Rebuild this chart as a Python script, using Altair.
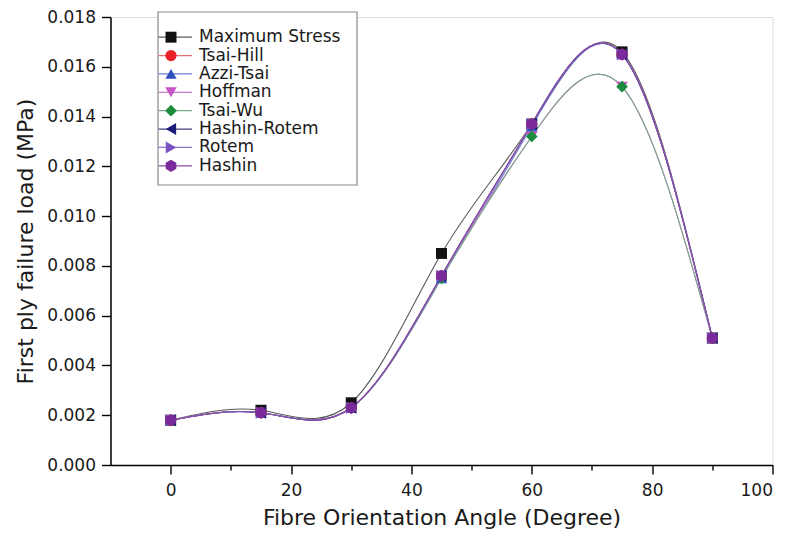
import altair as alt
import pandas as pd

angles = [0, 15, 30, 45, 60, 75, 90]
series_names = ["Maximum Stress", "Tsai-Hill", "Azzi-Tsai", "Hoffman", "Tsai-Wu",
                "Hashin-Rotem", "Rotem", "Hashin"]
max_stress = [0.0018, 0.0022, 0.0025, 0.0085, 0.0137, 0.0166, 0.0051]
tsai_hill = [0.0018, 0.0021, 0.0023, 0.0076, 0.0137, 0.0165, 0.0051]
azzi_tsai = [0.0018, 0.0021, 0.0023, 0.0075, 0.0136, 0.0165, 0.0051]
hoffman = [0.0018, 0.0021, 0.0023, 0.0076, 0.0132, 0.0152, 0.0051]
tsai_wu = [0.0018, 0.0021, 0.0023, 0.0075, 0.0132, 0.0152, 0.0051]
hashin_rotem = [0.0018, 0.0021, 0.0023, 0.0076, 0.0137, 0.0165, 0.0051]
rotem = [0.0018, 0.0021, 0.0023, 0.0076, 0.0137, 0.0165, 0.0051]
hashin = [0.0018, 0.0021, 0.0023, 0.0076, 0.0137, 0.0165, 0.0051]

all_values = [max_stress, tsai_hill, azzi_tsai, hoffman, tsai_wu, hashin_rotem, rotem, hashin]

colors = ["#111111", "#e8202a", "#2f4fbf", "#c455c4", "#1d8a3e", "#1c1c78", "#7b52c4", "#7a2a9a"]
line_colors = ["#5a5a5a", "#e07070", "#6a7fd0", "#c77ac7", "#7aa88a", "#404080", "#8f74cc", "#8a4aa8"]
hexagon = "M0,-1L0.866,-0.5L0.866,0.5L0,1L-0.866,0.5L-0.866,-0.5Z"
shapes = ["square", "circle", "triangle-up", "triangle-down", "diamond",
          "triangle-left", "triangle-right", hexagon]
sizes = [120, 150, 150, 150, 160, 150, 150, 210]

rows = []
for name, vals in zip(series_names, all_values):
    for a, v in zip(angles, vals):
        rows.append({"series": name, "angle": a, "load": v})
df = pd.DataFrame(rows)
df["order"] = df["series"].map({n: i for i, n in enumerate(series_names)})

FONT = "DejaVu Sans"
TXT = "#1a1a1a"

xscale = alt.Scale(domain=[-10, 100], nice=False, zero=False)
yscale = alt.Scale(domain=[0, 0.018], nice=False)

x_axis = alt.Axis(values=list(range(0, 101, 10)), grid=False,
                  labelExpr="datum.value % 20 == 0 ? datum.label : ''",
                  tickSize={"condition": {"test": "datum.value % 20 == 0", "value": 9}, "value": 5},
                  tickWidth=1.4, domainWidth=1.5,
                  title="Fibre Orientation Angle (Degree)", titleFontSize=22, titleFontWeight="normal",
                  titlePadding=9, labelFontSize=17, labelPadding=8, domainColor="black",
                  tickColor="black", labelColor=TXT, titleColor=TXT,
                  labelFont=FONT, titleFont=FONT)
y_vals = [round(i * 0.001, 3) for i in range(0, 19)]
y_axis = alt.Axis(values=y_vals, grid=False, format=".3f",
                  labelExpr="round(datum.value*1000) % 2 == 0 ? datum.label : ''",
                  tickSize={"condition": {"test": "round(datum.value*1000) % 2 == 0", "value": 9}, "value": 5},
                  tickWidth=1.4, domainWidth=1.5,
                  title="First ply failure load (MPa)", titleFontSize=22, titleFontWeight="normal",
                  titlePadding=9, labelFontSize=17, labelPadding=6, domainColor="black",
                  tickColor="black", labelColor=TXT, titleColor=TXT,
                  labelFont=FONT, titleFont=FONT)

size_enc = alt.Size("series:N", scale=alt.Scale(domain=series_names, range=sizes), legend=None)
shape_enc = alt.Shape("series:N", scale=alt.Scale(domain=series_names, range=shapes), legend=None)

base = alt.Chart(df)
lines = base.mark_line(interpolate="natural", strokeWidth=1.1).encode(
    x=alt.X("angle:Q", scale=xscale, axis=x_axis),
    y=alt.Y("load:Q", scale=yscale, axis=y_axis),
    detail="series:N",
    stroke=alt.Stroke("series:N", scale=alt.Scale(domain=series_names, range=line_colors), legend=None),
    order="order:Q",
)
points = base.mark_point(filled=True, opacity=1).encode(
    x=alt.X("angle:Q", scale=xscale),
    y=alt.Y("load:Q", scale=yscale),
    color=alt.Color("series:N", scale=alt.Scale(domain=series_names, range=colors), legend=None),
    shape=shape_enc,
    size=size_enc,
    order="order:Q",
)

main = alt.layer(lines, points)

# legend drawn as marks
leg_df = pd.DataFrame({"series": series_names})
leg_y = alt.Y("series:N", scale=alt.Scale(domain=series_names, range=[11, 158]), axis=None)
box = alt.Chart(pd.DataFrame({"k": [0]})).mark_rect(fill="white", stroke="#8a8a8a", strokeWidth=1.2).encode(
    x=alt.value(47.5), x2=alt.value(246.5), y=alt.value(-5), y2=alt.value(168))
leg_lines = alt.Chart(leg_df).mark_rule(strokeWidth=1.2).encode(
    x=alt.value(48), x2=alt.value(81.5), y=leg_y,
    color=alt.Color("series:N", scale=alt.Scale(domain=series_names, range=line_colors), legend=None))
leg_pts = alt.Chart(leg_df).mark_point(filled=True, opacity=1).encode(
    x=alt.value(60.5), y=leg_y,
    fill=alt.Fill("series:N", scale=alt.Scale(domain=series_names, range=colors), legend=None),
    shape=shape_enc, size=size_enc)
leg_txt = alt.Chart(leg_df).mark_text(align="left", baseline="middle", fontSize=17, font=FONT,
                                      color=TXT).encode(
    x=alt.value(88.5), y=leg_y, text="series:N")
legend = alt.layer(box, leg_lines, leg_pts, leg_txt)

chart = alt.layer(main, legend).resolve_scale(
    y="independent", color="independent", fill="independent", stroke="independent",
    shape="independent", size="independent"
).properties(
    width=662, height=448,
    autosize=alt.AutoSizeParams(type="none"),
    padding={"left": 102.5, "top": 9, "right": 8, "bottom": 70},
).configure_view(stroke=None).configure(background="white")

chart.save("out.html", embed_options={"renderer": "svg", "actions": False})
